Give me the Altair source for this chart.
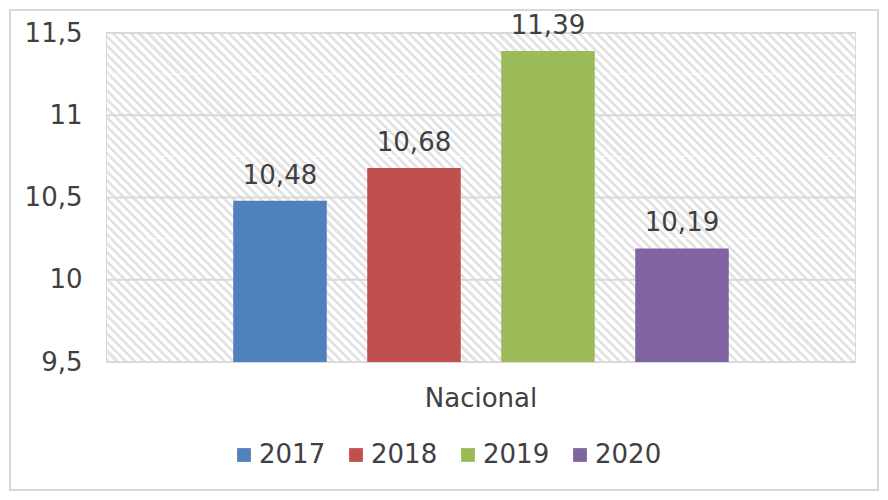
import altair as alt
import pandas as pd

# ---- data ----
regions = ["Nacional", "Nacional", "Nacional", "Nacional"]
years = ["2017", "2018", "2019", "2020"]
values = [10.48, 10.68, 11.39, 10.19]
value_labels = ["10,48", "10,68", "11,39", "10,19"]
colors = ["#4F81BD", "#C0504D", "#9BBB59", "#8064A2"]
major_ticks = [9.5, 10, 10.5, 11, 11.5]
minor_ticks = [9.75, 10.25, 10.75, 11.25]

W, H = 748, 329
FONT = "DejaVu Sans"
TXT = "#404040"
GRID = "#d9d9d9"

df = pd.DataFrame({"region": regions, "year": years, "value": values, "label": value_labels})
yscale = alt.Scale(domain=[9.5, 11.5], zero=False, nice=False)
yaxis = alt.Axis(title=None, values=major_ticks, grid=False, ticks=False, domain=False,
                 labelFontSize=26, labelFont=FONT, labelColor=TXT, labelPadding=25,
                 labelExpr="replace(toString(datum.value), '.', ',')")

# ---- hatch background as a striped linear gradient (45 degrees) ----
r = H / W
t = (1 + r) / (1 + r * r)
N = 120
stops = []
for k in range(N):
    a = k / N
    b = (k + 0.45) / N
    c = (k + 1) / N
    stops += [
        alt.GradientStop(color="#e4e4e4", offset=a),
        alt.GradientStop(color="#e4e4e4", offset=b),
        alt.GradientStop(color="#ffffff", offset=b),
        alt.GradientStop(color="#ffffff", offset=min(c, 1.0)),
    ]
grad = alt.LinearGradient(gradient="linear", stops=stops, x1=0, y1=1, x2=t, y2=1 - t * r)

one = alt.Data(values=[{"a": 1}])

bg = alt.Chart(one).mark_rect(fill=grad).encode(
    x=alt.value(0), x2=alt.value(W), y=alt.value(0), y2=alt.value(H)
)

minor = alt.Chart(pd.DataFrame({"v": minor_ticks})).mark_rule(
    color="#ffffff", strokeWidth=1, strokeDash=[5, 3], opacity=0.8
).encode(y=alt.Y("v:Q", scale=yscale, axis=yaxis))

major = alt.Chart(pd.DataFrame({"v": major_ticks})).mark_rule(
    color=GRID, strokeWidth=2
).encode(y=alt.Y("v:Q", scale=yscale, axis=yaxis))

xenc = alt.X(
    "region:N",
    scale=alt.Scale(paddingInner=0, paddingOuter=0),
    axis=alt.Axis(title=None, labelAngle=0, ticks=False, domain=False,
                  labelFontSize=26, labelFont=FONT, labelColor=TXT, labelPadding=23),
)
xoff = alt.XOffset("year:N", scale=alt.Scale(paddingInner=0.302, paddingOuter=0.942))

bars = alt.Chart(df).mark_bar().encode(
    x=xenc,
    xOffset=xoff,
    y=alt.Y("value:Q", scale=yscale, axis=yaxis),
    y2=alt.datum(9.5),
    color=alt.Color("year:N", scale=alt.Scale(domain=years, range=colors),
                    legend=alt.Legend(orient="none", legendX=124, legendY=409, direction="horizontal",
                                      title=None, symbolType="square", symbolSize=190,
                                      symbolStrokeWidth=0, labelFontSize=26, labelFont=FONT,
                                      labelColor=TXT, columnPadding=17, labelOffset=2, padding=0)),
)

text = alt.Chart(df).mark_text(
    dy=-17, baseline="alphabetic", fontSize=26, font=FONT, color=TXT
).encode(x=xenc, xOffset=xoff, y=alt.Y("value:Q", scale=yscale, axis=yaxis), text="label:N")

border = alt.Chart(one).mark_rect(fill="transparent", stroke=GRID, strokeWidth=2).encode(
    x=alt.value(-97), x2=alt.value(W + 23), y=alt.value(-23), y2=alt.value(H + 128)
)

chart = alt.layer(bg, minor, major, bars, text, border).properties(
    width=W, height=H,
    padding={"left": 99, "top": 25, "right": 25, "bottom": 130},
    autosize=alt.AutoSizeParams(type="none"),
).configure_view(stroke=GRID, strokeWidth=2)

chart.save("out.html", embed_options={"renderer": "svg", "actions": False})
